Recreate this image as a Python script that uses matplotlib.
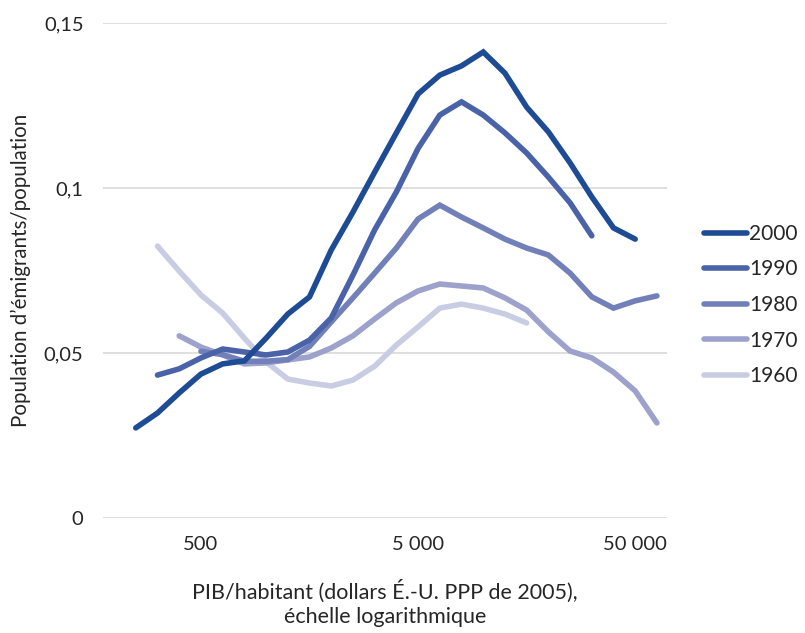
import numpy as np
import matplotlib.pyplot as plt

plt.rcParams['font.family'] = ['Lato', 'DejaVu Sans']

# PIB/habitant (points espacés de 0,1 en log10)
pib = [251, 316, 398, 501, 631, 794, 1000, 1259, 1585, 1995, 2512, 3162, 3981,
       5012, 6310, 7943, 10000, 12589, 15849, 19953, 25119, 31623, 39811, 50119, 63096]

nan = np.nan
s2000 = [0.0273, 0.0318, 0.0379, 0.0436, 0.0467, 0.0476, 0.0545, 0.0618, 0.067, 0.0812,
         0.0927, 0.1048, 0.1167, 0.1285, 0.1342, 0.137, 0.1412, 0.1348, 0.1245, 0.117,
         0.1076, 0.0973, 0.0879, 0.0845, nan]
s1990 = [nan, 0.0433, 0.0452, 0.0485, 0.0512, 0.0503, 0.0494, 0.0503, 0.0539, 0.0606,
         0.0736, 0.0873, 0.0988, 0.112, 0.1221, 0.1261, 0.1221, 0.1167, 0.1106, 0.1033,
         0.0955, 0.0855, nan, nan, nan]
s1980 = [nan, nan, nan, 0.0505, 0.0495, 0.0475, 0.0475, 0.048, 0.052, 0.0594,
         0.0667, 0.0742, 0.0818, 0.0906, 0.0948, 0.0912, 0.0879, 0.0845, 0.0818, 0.0797,
         0.0742, 0.067, 0.0636, 0.0658, 0.0673]
s1970 = [nan, nan, 0.0552, 0.0518, 0.0494, 0.0467, 0.047, 0.0479, 0.0488, 0.0515,
         0.0552, 0.0603, 0.0652, 0.0688, 0.0709, 0.0703, 0.0697, 0.0667, 0.063, 0.0564,
         0.0506, 0.0485, 0.0442, 0.0385, 0.0288]
s1960 = [nan, 0.0824, 0.0748, 0.0676, 0.0621, 0.0545, 0.0473, 0.0421, 0.0409, 0.04,
         0.0418, 0.046, 0.0524, 0.0579, 0.0636, 0.0648, 0.0636, 0.0618, 0.0591, nan,
         nan, nan, nan, nan, nan]

annees = ['2000', '1990', '1980', '1970', '1960']
series = [s2000, s1990, s1980, s1970, s1960]
couleurs = ['#1d4c95', '#4a62a7', '#7280b9', '#9ca2cc', '#c9cde4']

xticks = [500, 5000, 50000]
xlabels = ['500', '5 000', '50 000']
yticks = [0, 0.05, 0.1, 0.15]
ylabels = ['0', '0,05', '0,1', '0,15']

fig = plt.figure(figsize=(8.05, 6.33), dpi=100)
ax = fig.add_axes([0.128, 0.1817, 0.701, 0.782])

# 1960 dessiné en premier, 2000 au-dessus
for an, s, c in reversed(list(zip(annees, series, couleurs))):
    ax.plot(pib, s, color=c, lw=4.0, label=an, solid_capstyle='round',
            solid_joinstyle='miter')

ax.set_xscale('log')
ax.set_xlim(10 ** 2.249, 10 ** 4.848)
ax.set_ylim(0, 0.15)
ax.set_xticks(xticks)
ax.set_xticklabels(xlabels)
ax.minorticks_off()
ax.set_yticks(yticks)
ax.set_yticklabels(ylabels)
ax.tick_params(length=0, labelsize=14.5, colors='#262626')
ax.tick_params(axis='x', pad=13)
ax.tick_params(axis='y', pad=14)
ax.grid(axis='y', color='#d9d9d9', lw=1.2)
ax.set_axisbelow(True)
for sp in ax.spines.values():
    sp.set_visible(False)

ax.set_xlabel("PIB/habitant (dollars É.-U. PPP de 2005),\néchelle logarithmique",
              fontsize=15.5, color='#262626', labelpad=19, linespacing=1.3)
ax.set_ylabel("Population d’émigrants/population", fontsize=14.8, color='#262626',
              labelpad=9)

h, l = ax.get_legend_handles_labels()
leg = fig.legend(h[::-1], l[::-1], loc='center left', bbox_to_anchor=(0.874, 0.518),
                 frameon=False, fontsize=15, handlelength=2.1, handletextpad=0.1,
                 labelspacing=0.75, labelcolor='#262626', borderpad=0,
                 borderaxespad=0)

fig.savefig('out.png', dpi=100)
